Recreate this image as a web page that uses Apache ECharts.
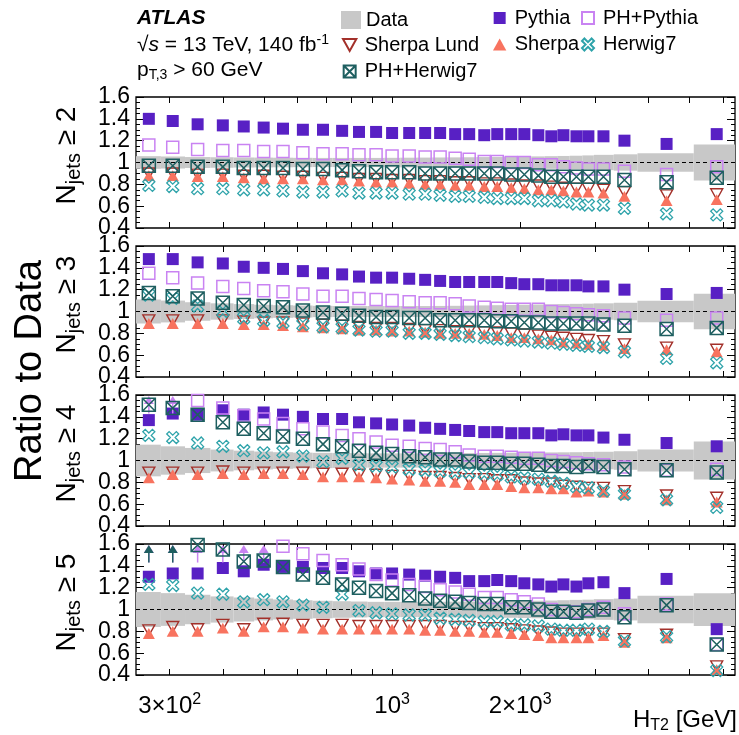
<!DOCTYPE html>
<html>
<head>
<meta charset="utf-8">
<script src="https://cdn.jsdelivr.net/npm/echarts@6/dist/echarts.min.js"></script>
<style>
html,body{margin:0;padding:0;background:#fff;}
#chart{width:739px;height:735px;}
</style>
</head>
<body>
<div id="chart"></div>
<script>
// H_T2 binning [GeV]
const binCenters = [268,305,349,400,448,499,554,617,688,763,836,917,1000,1097,1196,1297,1407,1518,1647,1767,1906,2046,2207,2368,2528,2713,2894,3140,3518,4419,5797];
const binEdges = [250,286,326,374,424,474,525,585,650,725,800,875,958,1045,1145,1245,1350,1460,1580,1710,1830,1975,2125,2285,2445,2615,2800,2980,3320,3775,5120,6400];

// x-axis ticks and labels
const xTickValues = [300,400,500,600,700,800,900,1000,2000,3000,4000,5000,6000];
const xLabelValues = [300,1000,2000];
const xLabelTexts = ['3×10{sup|2}','10{sup|3}','2×10{sup|3}'];

// ratio-axis labels (two interleaved sets so neighbouring labels never collide)
const yLabelValuesA = [0.4,0.8,1.2,1.6];
const yLabelValuesB = [0.6,1.0,1.4];
const yLabelValues = [0.4,0.6,0.8,1.0,1.2,1.4,1.6];
const yLabelTexts = ['0.4','0.6','0.8','1','1.2','1.4','1.6'];

// jet-multiplicity thresholds of the four panels
const njetCuts = ['2','3','4','5'];

// relative data uncertainty (half width of the band around 1)
const dataUncNj2 = [0.058,0.055,0.050,0.048,0.046,0.045,0.044,0.043,0.042,0.042,0.042,0.042,0.043,0.044,0.045,0.046,0.047,0.048,0.050,0.051,0.052,0.054,0.056,0.058,0.060,0.062,0.065,0.070,0.075,0.085,0.165];
const dataUncNj3 = [0.110,0.100,0.085,0.075,0.068,0.062,0.058,0.055,0.052,0.050,0.050,0.050,0.050,0.050,0.050,0.051,0.052,0.054,0.056,0.058,0.060,0.062,0.064,0.066,0.068,0.070,0.072,0.075,0.080,0.098,0.163];
const dataUncNj4 = [0.145,0.130,0.115,0.100,0.090,0.082,0.076,0.072,0.070,0.068,0.066,0.065,0.065,0.065,0.065,0.066,0.067,0.068,0.069,0.070,0.071,0.072,0.073,0.074,0.075,0.076,0.078,0.080,0.085,0.100,0.175];
const dataUncNj5 = [0.160,0.150,0.135,0.120,0.110,0.100,0.092,0.085,0.080,0.076,0.073,0.070,0.070,0.070,0.070,0.071,0.072,0.073,0.074,0.075,0.076,0.078,0.080,0.082,0.085,0.088,0.090,0.095,0.100,0.127,0.150];

// MC / data ratios, N_jets >= 2
const pythiaNj2     = [1.40,1.38,1.35,1.34,1.33,1.32,1.31,1.30,1.30,1.29,1.28,1.28,1.27,1.27,1.27,1.27,1.26,1.26,1.25,1.26,1.26,1.26,1.25,1.24,1.25,1.24,1.24,1.24,1.20,1.17,1.26];
const phPythiaNj2   = [1.16,1.14,1.12,1.11,1.11,1.10,1.10,1.09,1.08,1.08,1.07,1.07,1.06,1.06,1.05,1.05,1.04,1.03,1.01,1.01,1.00,1.00,0.98,0.98,0.96,0.95,0.94,0.94,0.92,0.89,0.96];
const sherpaLundNj2 = [0.90,0.90,0.89,0.89,0.88,0.88,0.87,0.87,0.86,0.86,0.85,0.85,0.84,0.84,0.83,0.83,0.82,0.82,0.81,0.81,0.80,0.79,0.79,0.78,0.77,0.76,0.76,0.75,0.73,0.70,0.71];
const sherpaNj2     = [0.88,0.88,0.87,0.87,0.86,0.85,0.85,0.85,0.84,0.84,0.83,0.82,0.82,0.81,0.80,0.80,0.79,0.79,0.78,0.78,0.77,0.76,0.75,0.75,0.74,0.73,0.73,0.72,0.69,0.65,0.66];
const herwigNj2     = [0.79,0.78,0.76,0.76,0.75,0.75,0.74,0.73,0.73,0.74,0.72,0.72,0.72,0.71,0.71,0.70,0.69,0.69,0.68,0.67,0.67,0.67,0.65,0.65,0.64,0.62,0.61,0.61,0.58,0.53,0.52];
const phHerwigNj2   = [0.97,0.97,0.96,0.96,0.95,0.95,0.95,0.94,0.94,0.93,0.92,0.91,0.91,0.91,0.90,0.90,0.90,0.90,0.90,0.90,0.89,0.89,0.88,0.87,0.87,0.87,0.87,0.87,0.84,0.82,0.86];

// N_jets >= 3
const pythiaNj3     = [1.48,1.48,1.45,1.44,1.41,1.40,1.39,1.37,1.35,1.34,1.32,1.31,1.31,1.30,1.29,1.28,1.27,1.27,1.27,1.27,1.26,1.25,1.25,1.24,1.24,1.24,1.23,1.23,1.20,1.16,1.17];
const phPythiaNj3   = [1.35,1.31,1.26,1.23,1.21,1.19,1.18,1.16,1.14,1.14,1.12,1.11,1.10,1.09,1.08,1.08,1.07,1.05,1.04,1.03,1.02,1.02,1.02,1.00,0.99,0.98,0.97,0.96,0.94,0.92,0.94];
const sherpaLundNj3 = [0.92,0.92,0.92,0.92,0.91,0.90,0.90,0.89,0.88,0.87,0.86,0.85,0.85,0.84,0.83,0.83,0.82,0.82,0.81,0.81,0.80,0.79,0.78,0.77,0.76,0.75,0.74,0.73,0.70,0.67,0.65];
const sherpaNj3     = [0.89,0.89,0.89,0.89,0.88,0.88,0.87,0.86,0.85,0.84,0.83,0.83,0.82,0.82,0.81,0.80,0.80,0.80,0.79,0.78,0.76,0.76,0.75,0.74,0.72,0.71,0.70,0.69,0.66,0.65,0.63];
const herwigNj3     = [1.15,1.12,1.05,1.00,0.94,0.92,0.90,0.88,0.86,0.85,0.83,0.82,0.82,0.80,0.80,0.79,0.78,0.77,0.76,0.75,0.74,0.73,0.72,0.71,0.70,0.69,0.68,0.67,0.63,0.57,0.53];
const phHerwigNj3   = [1.17,1.14,1.12,1.08,1.06,1.05,1.04,1.01,0.99,0.98,0.96,0.95,0.95,0.94,0.94,0.92,0.92,0.92,0.92,0.91,0.91,0.90,0.90,0.89,0.89,0.89,0.89,0.88,0.87,0.84,0.85];

// N_jets >= 4
const pythiaNj4     = [1.37,1.43,1.42,1.46,1.42,1.44,1.42,1.40,1.38,1.38,1.35,1.34,1.33,1.32,1.30,1.29,1.28,1.27,1.26,1.26,1.25,1.25,1.25,1.23,1.24,1.23,1.23,1.21,1.19,1.16,1.13];
const phPythiaNj4   = [1.75,1.72,1.55,1.48,1.41,1.38,1.34,1.29,1.26,1.23,1.20,1.17,1.14,1.13,1.11,1.10,1.08,1.05,1.04,1.04,1.03,1.02,1.02,1.00,0.99,0.98,0.97,0.96,0.94,0.91,0.92];
const sherpaLundNj4 = [0.89,0.89,0.89,0.90,0.89,0.89,0.89,0.89,0.88,0.88,0.87,0.87,0.86,0.86,0.85,0.85,0.84,0.83,0.83,0.82,0.82,0.80,0.79,0.79,0.77,0.76,0.75,0.75,0.72,0.68,0.66];
const sherpaNj4     = [0.84,0.87,0.87,0.88,0.87,0.88,0.88,0.87,0.85,0.85,0.85,0.84,0.83,0.82,0.81,0.81,0.80,0.78,0.78,0.78,0.76,0.75,0.75,0.74,0.74,0.71,0.72,0.71,0.69,0.64,0.62];
const herwigNj4     = [1.23,1.21,1.16,1.13,1.09,1.07,1.08,1.04,0.99,1.02,0.96,0.95,0.94,0.92,0.91,0.90,0.89,0.89,0.88,0.87,0.85,0.84,0.83,0.81,0.79,0.76,0.75,0.72,0.69,0.64,0.57];
const phHerwigNj4   = [1.51,1.48,1.42,1.35,1.29,1.25,1.22,1.20,1.15,1.13,1.09,1.07,1.06,1.04,1.03,1.01,1.01,0.99,0.98,0.98,0.97,0.97,0.96,0.95,0.95,0.94,0.95,0.94,0.92,0.91,0.89];

// N_jets >= 5
const pythiaNj5     = [1.30,1.33,1.33,1.38,1.35,1.41,1.39,1.39,1.38,1.38,1.35,1.33,1.33,1.32,1.31,1.30,1.29,1.26,1.26,1.27,1.26,1.24,1.23,1.21,1.23,1.21,1.24,1.25,1.15,1.28,0.82];
const phPythiaNj5   = [1.80,1.78,1.72,1.70,1.66,1.66,1.58,1.51,1.45,1.41,1.37,1.32,1.27,1.23,1.21,1.18,1.16,1.14,1.11,1.11,1.09,1.07,1.05,1.00,0.98,0.98,1.00,1.02,0.96,1.05,0.68];
const sherpaLundNj5 = [0.81,0.84,0.82,0.86,0.82,0.87,0.87,0.86,0.86,0.86,0.85,0.85,0.85,0.85,0.85,0.85,0.84,0.84,0.83,0.83,0.82,0.81,0.80,0.79,0.78,0.78,0.78,0.78,0.73,0.77,0.48];
const sherpaNj5     = [0.78,0.80,0.80,0.83,0.80,0.84,0.84,0.83,0.82,0.82,0.82,0.82,0.82,0.82,0.81,0.81,0.80,0.80,0.79,0.79,0.78,0.77,0.76,0.74,0.74,0.74,0.74,0.76,0.70,0.74,0.45];
const herwigNj5     = [1.23,1.22,1.15,1.14,1.07,1.09,1.07,1.04,1.02,1.14,0.99,0.97,0.96,0.95,0.95,0.92,0.91,0.90,0.89,0.89,0.86,0.86,0.85,0.82,0.81,0.81,0.82,0.80,0.71,0.75,0.44];
const phHerwigNj5   = [1.75,1.72,1.59,1.55,1.44,1.45,1.39,1.32,1.29,1.23,1.20,1.17,1.15,1.13,1.10,1.08,1.07,1.06,1.05,1.05,1.02,1.02,1.00,0.98,0.98,0.97,0.99,1.00,0.93,1.04,0.68];

const panels = [
  {cut: njetCuts[0], unc: dataUncNj2, values: {'Sherpa Lund': sherpaLundNj2, 'Sherpa': sherpaNj2, 'Pythia': pythiaNj2, 'PH+Pythia': phPythiaNj2, 'Herwig7': herwigNj2, 'PH+Herwig7': phHerwigNj2}},
  {cut: njetCuts[1], unc: dataUncNj3, values: {'Sherpa Lund': sherpaLundNj3, 'Sherpa': sherpaNj3, 'Pythia': pythiaNj3, 'PH+Pythia': phPythiaNj3, 'Herwig7': herwigNj3, 'PH+Herwig7': phHerwigNj3}},
  {cut: njetCuts[2], unc: dataUncNj4, values: {'Sherpa Lund': sherpaLundNj4, 'Sherpa': sherpaNj4, 'Pythia': pythiaNj4, 'PH+Pythia': phPythiaNj4, 'Herwig7': herwigNj4, 'PH+Herwig7': phHerwigNj4}},
  {cut: njetCuts[3], unc: dataUncNj5, values: {'Sherpa Lund': sherpaLundNj5, 'Sherpa': sherpaNj5, 'Pythia': pythiaNj5, 'PH+Pythia': phPythiaNj5, 'Herwig7': herwigNj5, 'PH+Herwig7': phHerwigNj5}}
];

// ---------- styling ----------
const FONT = '"Liberation Sans", Arial, Helvetica, sans-serif';
const Y_MIN = 0.4, Y_MAX = 1.6;
const X_MIN = 250, X_MAX = 6400;
const gridTops = [97, 246, 395, 544];
const gridH = 131;
const gridLeft = 136, gridRight = 4;
const CLEAR = 'rgba(0,0,0,0)';

const markerStyles = {
  'Sherpa Lund': {symbol: 'path://M0,0L10,0L5,9Z', size: 12, fill: CLEAR, stroke: '#a3302a', lw: 1.4},
  'Sherpa':      {symbol: 'path://M5,0L10,9L0,9Z', size: 12, fill: '#f8735f', stroke: '#f8735f', lw: 0},
  'Pythia':      {symbol: 'path://M0,0H10V10H0Z', size: 12, fill: '#5820c4', stroke: '#5820c4', lw: 0},
  'PH+Pythia':   {symbol: 'path://M0,0H10V10H0Z', size: 12, fill: CLEAR, stroke: '#c983f2', lw: 1.5},
  'Herwig7':     {symbol: 'path://M0,2L2,0L5,3L8,0L10,2L7,5L10,8L8,10L5,7L2,10L0,8L3,5Z', size: 12, fill: CLEAR, stroke: '#2ea3aa', lw: 1.3},
  'PH+Herwig7':  {symbol: 'path://M0,0H10V10H0Z M0,0L10,10 M10,0L0,10', size: 13, fill: CLEAR, stroke: '#1e5f60', lw: 1.5}
};
const arrowColors = {'PH+Pythia': '#c983f2', 'PH+Herwig7': '#1e5f60', 'Pythia': '#5820c4', 'Herwig7': '#2ea3aa', 'Sherpa': '#f8735f', 'Sherpa Lund': '#a3302a'};
const drawOrder = ['Sherpa Lund', 'Sherpa', 'Pythia', 'PH+Pythia', 'Herwig7', 'PH+Herwig7'];
const ARROW_BASE = 1.43;

function bandItem(params, api) {
  const p1 = api.coord([api.value(0), 1 + api.value(2)]);
  const p2 = api.coord([api.value(1), 1 - api.value(2)]);
  return {type: 'rect', shape: {x: p1[0], y: p1[1], width: p2[0] - p1[0], height: p2[1] - p1[1]},
          style: {fill: '#c8c8c8'}};
}

// out-of-range points: an upward arrow ending at the top of the frame
function arrowItem(params, api) {
  const x = api.value(0);
  const top = api.coord([x, Y_MAX]);
  const base = api.coord([x, ARROW_BASE]);
  const c = api.visual('color');
  const tipY = top[1] + 1;
  return {type: 'group', children: [
    {type: 'line', shape: {x1: top[0], y1: base[1], x2: top[0], y2: tipY + 5}, style: {stroke: c, lineWidth: 1.5}},
    {type: 'polygon', shape: {points: [[top[0] - 5, tipY + 8], [top[0] + 5, tipY + 8], [top[0], tipY]]}, style: {fill: c}}
  ]};
}

const yLabelFormatter = v => yLabelTexts[yLabelValues.findIndex(t => Math.abs(t - v) < 1e-6)] || '';

const grids = [], xAxes = [], yAxes = [], series = [];
panels.forEach((panel, p) => {
  const isLast = p === panels.length - 1;
  grids.push({left: gridLeft, right: gridRight, top: gridTops[p], height: gridH,
              show: true, borderColor: '#000', borderWidth: 1.3, backgroundColor: 'transparent'});
  const xCommon = {
    type: 'log', gridIndex: p, min: X_MIN, max: X_MAX,
    axisLine: {show: false}, splitLine: {show: false},
    axisTick: {show: true, inside: true, length: 6, customValues: xTickValues, lineStyle: {color: '#000', width: 1}},
    minorTick: {show: false}
  };
  xAxes.push(Object.assign({}, xCommon, {
    position: 'bottom',
    axisLabel: isLast ? {
      show: true, customValues: xLabelValues, margin: 17, color: '#000', fontFamily: FONT, fontSize: 24,
      formatter: v => xLabelTexts[xLabelValues.indexOf(Math.round(v))] || '',
      rich: {sup: {fontSize: 16, fontFamily: FONT, color: '#000', padding: [0, 0, 12, 0]}}
    } : {show: false}
  }));
  xAxes.push(Object.assign({}, xCommon, {position: 'top', axisLabel: {show: false}}));

  const yCommon = {
    type: 'value', gridIndex: p, min: Y_MIN, max: Y_MAX, interval: 0.2,
    axisLine: {show: false}, splitLine: {show: false},
    axisTick: {show: true, inside: true, length: 8, lineStyle: {color: '#000', width: 1}},
    minorTick: {show: true, splitNumber: 4, length: 4, lineStyle: {color: '#000', width: 1}}
  };
  const yLabelCommon = {show: true, margin: 6, color: '#000', fontFamily: FONT, fontSize: 23,
                        showMinLabel: true, showMaxLabel: true, formatter: yLabelFormatter};
  // left axis: ticks and every other label
  yAxes.push(Object.assign({}, yCommon, {
    position: 'left', axisLabel: Object.assign({}, yLabelCommon, {customValues: yLabelValuesA})
  }));
  // left axis: remaining labels only
  yAxes.push(Object.assign({}, yCommon, {
    position: 'left', offset: 0, axisTick: {show: false}, minorTick: {show: false},
    axisLabel: Object.assign({}, yLabelCommon, {customValues: yLabelValuesB})
  }));
  // right axis: ticks only
  yAxes.push(Object.assign({}, yCommon, {position: 'right', axisLabel: {show: false}}));

  const xi = p * 2, yi = p * 3;
  series.push({
    type: 'custom', name: 'Data', xAxisIndex: xi, yAxisIndex: yi, renderItem: bandItem,
    itemStyle: {color: '#c8c8c8'}, silent: true, z: 1,
    encode: {x: [0, 1], y: 2},
    data: panel.unc.map((e, i) => [binEdges[i], binEdges[i + 1], e])
  });
  series.push({
    type: 'line', name: 'unity', xAxisIndex: xi, yAxisIndex: yi, symbol: 'none', silent: true, z: 2,
    lineStyle: {color: '#000', width: 1, type: [4, 3]},
    data: [[X_MIN, 1], [X_MAX, 1]]
  });
  drawOrder.forEach((name, k) => {
    const st = markerStyles[name];
    const vals = panel.values[name];
    series.push({
      type: 'scatter', name: name, xAxisIndex: xi, yAxisIndex: yi, silent: true, z: 3 + k * 0.01,
      symbol: st.symbol, symbolSize: st.size, symbolKeepAspect: true, clip: true,
      itemStyle: {color: st.fill, borderColor: st.stroke, borderWidth: st.lw, opacity: 1},
      emphasis: {disabled: true},
      data: binCenters.map((x, i) => [x, vals[i]])
    });
    const off = binCenters.map((x, i) => [x, vals[i]]).filter(d => d[1] > Y_MAX);
    if (off.length) {
      series.push({
        type: 'custom', name: name + ' overflow', xAxisIndex: xi, yAxisIndex: yi, silent: true, z: 3 + k * 0.01 + 0.005,
        renderItem: arrowItem, itemStyle: {color: arrowColors[name]},
        encode: {x: 0, y: 1}, data: off
      });
    }
  });
});

const legendText = {color: '#000', fontFamily: FONT, fontSize: 20, lineHeight: 22};
const legendCommon = {orient: 'vertical', selectedMode: false, itemWidth: 20, itemHeight: 12, itemGap: 4.5,
                      textStyle: legendText, padding: 0, symbolKeepAspect: true};

const subRich = {sub: {fontSize: 14, fontFamily: FONT, color: '#000', padding: [10, 0, 0, 0]},
                 sup: {fontSize: 14, fontFamily: FONT, color: '#000', padding: [0, 0, 10, 0]},
                 it: {fontSize: 21, fontFamily: FONT, fontStyle: 'italic', color: '#000'}};

const graphics = [
  {type: 'text', x: 137, y: 18, style: {text: 'ATLAS', fontFamily: FONT, fontSize: 21, fontWeight: 'bold', fontStyle: 'italic', fill: '#000', verticalAlign: 'middle'}},
  {type: 'text', x: 137, y: 45, style: {text: '√{it|s} = 13 TeV, 140 fb{sup|-1}', fontFamily: FONT, fontSize: 21, fill: '#000', verticalAlign: 'middle', rich: subRich}},
  {type: 'text', x: 137, y: 70, style: {text: 'p{sub|T,3} > 60 GeV', fontFamily: FONT, fontSize: 21, fill: '#000', verticalAlign: 'middle', rich: subRich}},
  {type: 'text', x: 31, y: 371, rotation: Math.PI / 2, style: {text: 'Ratio to Data', fontFamily: FONT, fontSize: 38, fill: '#000', align: 'center', verticalAlign: 'middle'}},
  {type: 'text', x: 737, y: 720, style: {text: 'H{sub|T2} [GeV]', fontFamily: FONT, fontSize: 24, fill: '#000', align: 'right', verticalAlign: 'middle',
    rich: {sub: {fontSize: 16, fontFamily: FONT, color: '#000', padding: [12, 0, 0, 0]}}}}
];
panels.forEach((panel, p) => {
  graphics.push({type: 'text', x: 67, y: gridTops[p] + gridH / 2 - 7, rotation: Math.PI / 2,
    style: {text: 'N{sub|jets} ≥ ' + panel.cut, fontFamily: FONT, fontSize: 28, fill: '#000', align: 'center', verticalAlign: 'middle',
            rich: {sub: {fontSize: 20, fontFamily: FONT, color: '#000', padding: [14, 0, 0, 0]}}}});
});

const chart = echarts.init(document.getElementById('chart'), null, {renderer: 'canvas'});
chart.setOption({
  animation: false,
  backgroundColor: '#fff',
  textStyle: {fontFamily: FONT},
  grid: grids,
  xAxis: xAxes,
  yAxis: yAxes,
  legend: [
    Object.assign({}, legendCommon, {left: 341, top: 9, itemHeight: 18, data: [{name: 'Data', icon: 'rect'}]}),
    Object.assign({}, legendCommon, {left: 342, top: 34, data: ['Sherpa Lund', 'PH+Herwig7']}),
    Object.assign({}, legendCommon, {left: 493, top: 7, data: ['Pythia', 'Sherpa']}),
    Object.assign({}, legendCommon, {left: 581, top: 7, data: ['PH+Pythia', 'Herwig7']})
  ],
  series: series,
  graphic: graphics
});
</script>
</body>
</html>
